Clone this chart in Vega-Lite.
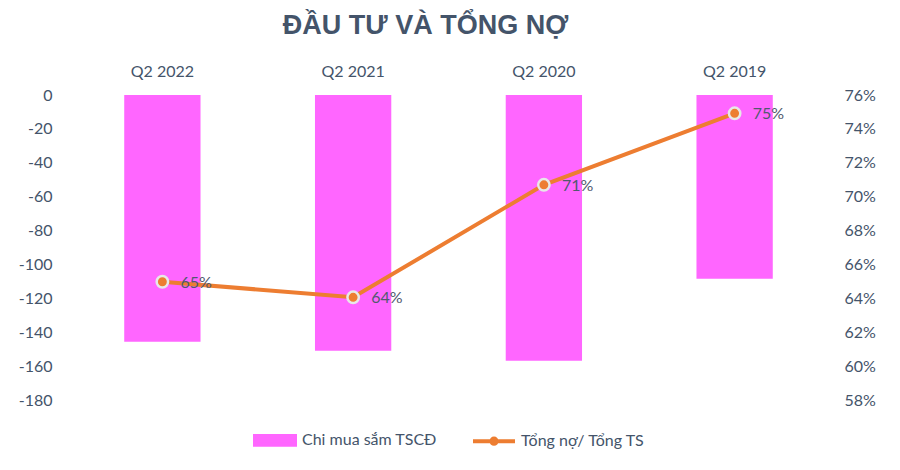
{
  "$schema": "https://vega.github.io/schema/vega-lite/v6.json",
  "width": 763,
  "height": 305,
  "autosize": {"type": "none"},
  "padding": {"left": 67, "top": 95, "right": 70, "bottom": 70},
  "background": "white",
  "title": {
    "text": "ĐẦU TƯ VÀ TỔNG NỢ",
    "anchor": "middle",
    "font": "Liberation Sans",
    "fontSize": 27,
    "fontWeight": "bold",
    "color": "#44546a",
    "offset": 23,
    "dx": -23
  },
  "data": {
    "values": [
      {"quarter": "Q2 2022", "chi": -145.6, "ratio": 0.6498},
      {"quarter": "Q2 2021", "chi": -151.0, "ratio": 0.6406},
      {"quarter": "Q2 2020", "chi": -156.8, "ratio": 0.7070},
      {"quarter": "Q2 2019", "chi": -108.4, "ratio": 0.7492}
    ]
  },
  "encoding": {
    "x": {
      "field": "quarter",
      "type": "nominal",
      "sort": ["Q2 2022", "Q2 2021", "Q2 2020", "Q2 2019"],
      "scale": {"paddingInner": 0.6, "paddingOuter": 0.3},
      "axis": {
        "orient": "top",
        "title": null,
        "domain": false,
        "ticks": false,
        "labelAngle": 0,
        "labelFont": "Lato",
        "labelFontSize": 16,
        "labelColor": "#44546a",
        "labelPadding": 16
      }
    }
  },
  "layer": [
    {
      "mark": {"type": "bar", "color": "#ff66ff"},
      "encoding": {
        "y": {
          "field": "chi",
          "type": "quantitative",
          "scale": {"domain": [-180, 0], "nice": false, "zero": false},
          "axis": {
            "orient": "left",
            "title": null,
            "values": [0, -20, -40, -60, -80, -100, -120, -140, -160, -180],
            "labelExpr": "replace(datum.label, '−', '-')",
            "grid": false,
            "domain": false,
            "ticks": false,
            "labelFont": "Lato",
            "labelFontSize": 16,
            "labelColor": "#44546a",
            "labelPadding": 15
          }
        },
        "color": {
          "datum": "Chi mua sắm TSCĐ",
          "type": "nominal",
          "scale": {
            "domain": ["Chi mua sắm TSCĐ", "Tổng nợ/ Tổng TS"],
            "range": ["#ff66ff", "#ed7d31"]
          },
          "legend": {
            "title": null,
            "orient": "bottom",
            "direction": "horizontal",
            "offset": 18,
            "labelFont": "Lato",
            "labelFontSize": 16,
            "labelColor": "#44546a",
            "symbolSize": 1600,
            "symbolStrokeWidth": 4,
            "columnPadding": 28,
            "labelOffset": 5,
            "encode": {
              "symbols": {
                "update": {
                  "shape": {"signal": "datum.value == 'Chi mua sắm TSCĐ' ? 'M-1,-0.22H1V0.22H-1Z' : 'M-1.05,0H1.05M0.13,0A0.13,0.13 0 1,1 -0.13,0A0.13,0.13 0 1,1 0.13,0'"},
                  "fill": {"signal": "datum.value == 'Chi mua sắm TSCĐ' ? '#ff66ff' : '#ed7d31'"},
                  "stroke": {"signal": "datum.value == 'Chi mua sắm TSCĐ' ? null : '#ed7d31'"},
                  "strokeWidth": {"value": 4}
                }
              }
            }
          }
        }
      }
    },
    {
      "layer": [
        {
          "mark": {"type": "line", "color": "#ed7d31", "strokeWidth": 4},
          "encoding": {
            "color": {"datum": "Tổng nợ/ Tổng TS", "type": "nominal"}
          }
        },
        {
          "mark": {"type": "point", "filled": true, "size": 130, "fill": "#ed7d31", "stroke": "#e8e8e8", "strokeWidth": 2.5, "opacity": 1}
        },
        {
          "mark": {"type": "text", "align": "left", "baseline": "middle", "dx": 18, "dy": 1, "font": "Lato", "fontSize": 16, "color": "#505a6e"},
          "encoding": {
            "text": {"field": "ratio", "type": "quantitative", "format": ".0%"}
          }
        }
      ],
      "encoding": {
        "y": {
          "field": "ratio",
          "type": "quantitative",
          "scale": {"domain": [0.58, 0.76], "nice": false, "zero": false},
          "axis": {
            "orient": "right",
            "title": null,
            "format": ".0%",
            "values": [0.58, 0.60, 0.62, 0.64, 0.66, 0.68, 0.70, 0.72, 0.74, 0.76],
            "grid": false,
            "domain": false,
            "ticks": false,
            "labelFont": "Lato",
            "labelFontSize": 16,
            "labelColor": "#44546a",
            "labelPadding": 14
          }
        }
      }
    }
  ],
  "resolve": {"scale": {"y": "independent"}},
  "config": {
    "view": {"stroke": null},
    "legend": {"layout": {"bottom": {"anchor": "middle"}}}
  }
}
